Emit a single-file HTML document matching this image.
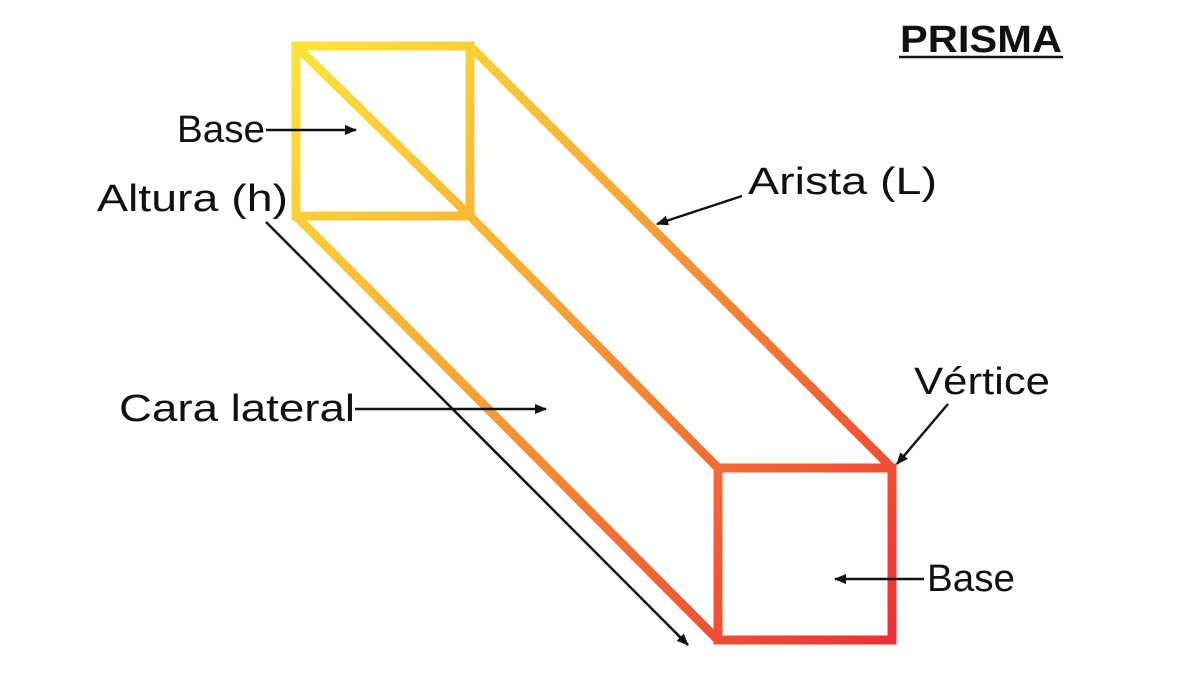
<!DOCTYPE html>
<html><head><style>
html,body{margin:0;padding:0;background:#fff;width:1200px;height:675px;overflow:hidden}
svg text{font-family:"Liberation Sans",sans-serif;fill:#111}
</style></head><body>
<svg width="1200" height="675" viewBox="0 0 1200 675" xmlns="http://www.w3.org/2000/svg">
<defs>
<linearGradient id="g" gradientUnits="userSpaceOnUse" x1="296" y1="46" x2="892" y2="640">
<stop offset="0" stop-color="#fbe43a"/>
<stop offset="0.4" stop-color="#f6aa36"/>
<stop offset="1" stop-color="#ee2f33"/>
</linearGradient>
<marker id="a" markerWidth="12" markerHeight="12" refX="11" refY="6" orient="auto" markerUnits="userSpaceOnUse">
<path d="M0,1 L12,6 L0,11 Z" fill="#111"/>
</marker>
</defs>
<g fill="none" stroke="url(#g)" stroke-width="9" stroke-linejoin="miter">
<path d="M296,46 H470 V216 H296 Z"/>
<path d="M296,46 L470,216"/>
<path d="M718,468 H892 V640 H718 Z"/>
<path d="M470,46 L892,468"/>
<path d="M470,216 L718,468"/>
<path d="M296,216 L718,640"/>
</g>
<g stroke="#111" stroke-width="2.5" fill="none">
<line x1="266" y1="130" x2="356" y2="130" marker-end="url(#a)"/>
<line x1="266" y1="222" x2="688" y2="645" marker-end="url(#a)"/>
<line x1="742" y1="196" x2="657" y2="224" marker-end="url(#a)"/>
<line x1="355" y1="409" x2="546" y2="409" marker-end="url(#a)"/>
<line x1="948" y1="404" x2="897" y2="464" marker-end="url(#a)"/>
<line x1="924" y1="579" x2="835" y2="579" marker-end="url(#a)"/>
</g>
<text x="177" y="142" font-size="38" textLength="88" lengthAdjust="spacingAndGlyphs">Base</text>
<text x="97" y="211" font-size="38" textLength="191" lengthAdjust="spacingAndGlyphs">Altura (h)</text>
<text x="748" y="194" font-size="38" textLength="189" lengthAdjust="spacingAndGlyphs">Arista (L)</text>
<text x="119" y="421" font-size="38" textLength="236" lengthAdjust="spacingAndGlyphs">Cara lateral</text>
<text x="914" y="394" font-size="38" textLength="136" lengthAdjust="spacingAndGlyphs">Vértice</text>
<text x="927" y="591" font-size="38" textLength="88" lengthAdjust="spacingAndGlyphs">Base</text>
<text x="900" y="52" font-size="38" font-weight="bold" textLength="162" lengthAdjust="spacingAndGlyphs">PRISMA</text>
<line x1="899" y1="57" x2="1063" y2="57" stroke="#111" stroke-width="2.5"/>
</svg>
</body></html>
